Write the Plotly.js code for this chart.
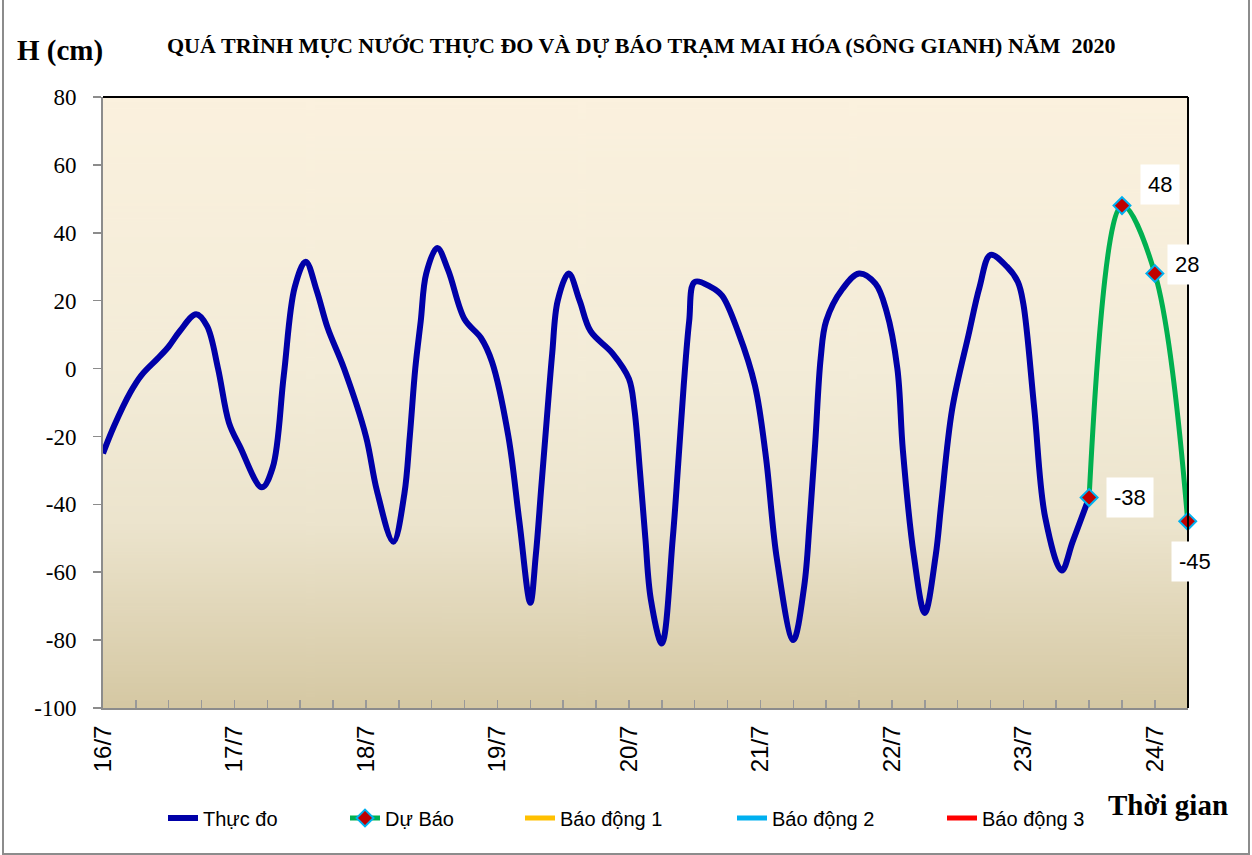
<!DOCTYPE html>
<html>
<head>
<meta charset="utf-8">
<script src="https://cdn.plot.ly/plotly-3.0.1.min.js"></script>
<style>
html,body{margin:0;padding:0;background:#fff;}
#wrap{position:relative;width:1252px;height:855px;overflow:hidden;}
#chart{width:1252px;height:855px;}
#frame{position:absolute;left:2px;top:-4px;width:1244px;height:855px;border:2px solid #8c8c8c;pointer-events:none;}
</style>
</head>
<body>
<div id="wrap"><div id="chart"></div><div id="frame"></div></div>
<script>
// ---- data (hours counted from 16/7 00:00) ----
const dayLabels = ['16/7','17/7','18/7','19/7','20/7','21/7','22/7','23/7','24/7'];
const dayHours  = [0,24,48,72,96,120,144,168,192];
const yTicks = [80,60,40,20,0,-20,-40,-60,-80,-100];

const obsHours = [0,2,5,7,10,12,14,17,19,21,23,25,29,31,33,35,37,39,41,44,48,50,53,
  55,56,57,58,59,61,63,66,69,71,74,76,78,79,80,81,82,83,85,87,89,93,96,97,98,99,100,102,
  104,105,106,107,108,111,113,116,119,121,123,126,128,129,130,131,132,135,138,141,143,145,146,148,150,
  152,153,155,158,160,162,165,167,168,170,172,175,177,180];
const obsLevel = [-25,-17,-7,-2,3,6.5,11,16,12.5,0,-16,-23,-35,-29,-2,24,31.5,23,12,0,-20,-36,-51,
  -37,-20,0,14,28,35.5,29,14.5,9,2,-20,-45,-69,-55,-35,-15,4.5,20,28,20,11,4.5,-3,-12,-30,-50,-68,-81,
  -50,-28,-5,14,25.5,24,21.5,10.5,-5,-26,-56,-80,-64,-45,-22,3,14,23.5,28,25,17,0,-24,-55,-72,
  -55,-40,-12,10,24,33.5,30,25.5,19,-12,-44,-59.5,-51,-38];

const fcHours = [180,186,192,198];
const fcLevel = [-38,48,28,-45];

const alarmHours = [0,198];
const alarm1 = [null,null];
const alarm2 = [null,null];
const alarm3 = [null,null];

const seriesNames = ['Thực đo','Dự Báo','Báo động 1','Báo động 2','Báo động 3'];

// ---- gradient background ----
const cv = document.createElement('canvas');
cv.width = 8; cv.height = 400;
const cx = cv.getContext('2d');
const gr = cx.createLinearGradient(0,0,0,400);
gr.addColorStop(0,'#FBF1DE');
gr.addColorStop(0.45,'#F3ECD8');
gr.addColorStop(0.7,'#ECE4CD');
gr.addColorStop(1,'#D5C8A3');
cx.fillStyle = gr; cx.fillRect(0,0,8,400);
const bgURL = cv.toDataURL('image/png');

const traces = [
  {x: obsHours, y: obsLevel, name: seriesNames[0], type:'scatter', mode:'lines',
   line:{color:'#0000A8', width:6, shape:'spline', smoothing:1}, legend:'legend'},
  {x: fcHours, y: fcLevel, name: seriesNames[1], type:'scatter', mode:'lines+markers', cliponaxis:false,
   line:{color:'#00B050', width:5, shape:'spline', smoothing:1},
   marker:{symbol:'diamond', size:13, color:'#C00000', line:{color:'#00B0F0', width:2}}, legend:'legend2'},
  {x: alarmHours, y: alarm1, name: seriesNames[2], type:'scatter', mode:'lines',
   line:{color:'#FFC000', width:5}, legend:'legend3'},
  {x: alarmHours, y: alarm2, name: seriesNames[3], type:'scatter', mode:'lines',
   line:{color:'#00B0F0', width:5}, legend:'legend4'},
  {x: alarmHours, y: alarm3, name: seriesNames[4], type:'scatter', mode:'lines',
   line:{color:'#FF0000', width:5}, legend:'legend5'}
];

const L = 103, R = 1188, T = 97, B = 708;
const W = R - L, H = B - T;
const px = v => (v - L) / W;
const py = v => (B - v) / H;

const legFont = {family:'Liberation Sans, Arial, sans-serif', size:20, color:'#000'};
function mkLegend(xpix){
  return {x: px(xpix), y: py(818), xanchor:'left', yanchor:'middle', orientation:'h',
    font: legFont, bgcolor:'rgba(0,0,0,0)', borderwidth:0, itemwidth:30, tracegroupgap:0};
}

const serif = 'Liberation Serif, Times New Roman, serif';
const sans = 'Liberation Sans, Arial, sans-serif';
const labelOffsets = [[41,0],[38,21],[32,9],[7,-40]];
const annotations = [
  {xref:'paper', yref:'paper', x:px(641), y:py(45), xanchor:'center', yanchor:'middle', showarrow:false,
   text:'<b>QUÁ TRÌNH MỰC NƯỚC THỰC ĐO VÀ DỰ BÁO TRẠM MAI HÓA (SÔNG GIANH) NĂM  2020</b>',
   font:{family:serif, size:22, color:'#000'}},
  {xref:'paper', yref:'paper', x:px(60), y:py(50), xanchor:'center', yanchor:'middle', showarrow:false, text:'<b>H (cm)</b>',
   font:{family:serif, size:29, color:'#000'}},
  {xref:'paper', yref:'paper', x:px(1168), y:py(805), xanchor:'center', yanchor:'middle', showarrow:false, text:'<b>Thời gian</b>',
   font:{family:serif, size:29, color:'#000'}}
];
fcLevel.forEach((v,i)=>{
  annotations.push({x: fcHours[i], y: v, xref:'x', yref:'y', text: String(v), showarrow:false,
    xanchor:'center', yanchor:'middle',
    xshift: labelOffsets[i][0], yshift: labelOffsets[i][1], bgcolor:'#fff', borderpad:7,
    font:{family:sans, size:22, color:'#000'}});
});

const layout = {
  width:1252, height:855,
  margin:{l:L, r:1252-R, t:T, b:855-B, pad:0},
  paper_bgcolor:'rgba(0,0,0,0)', plot_bgcolor:'#F1EAD5',
  showlegend:true,
  legend: mkLegend(163),
  legend2: mkLegend(345),
  legend3: mkLegend(520),
  legend4: mkLegend(732),
  legend5: mkLegend(942),
  xaxis:{range:[0,198.05], tickmode:'array', tickvals:dayHours, ticktext:dayLabels, tickangle:-90,
    ticks:'inside', ticklen:8, tickwidth:1.5, tickcolor:'#999', showgrid:false, zeroline:false,
    showline:true, linecolor:'#8c8c8c', linewidth:2, ticklabelstandoff:6,
    tickfont:{family:sans, size:24, color:'#000'},
    minor:{tickmode:'linear', tick0:0, dtick:6, ticks:'inside', ticklen:8, tickwidth:1.5, tickcolor:'#999', showgrid:false}},
  yaxis:{range:[-100,80], tickmode:'array', tickvals:yTicks, ticktext:yTicks.map(String),
    ticks:'outside', ticklen:8, tickwidth:1.5, tickcolor:'#8c8c8c',
    showgrid:false, zeroline:false, showline:true, linecolor:'#8c8c8c', linewidth:2, ticklabelstandoff:12,
    tickfont:{family:serif, size:23, color:'#000'}},
  images:[{source:bgURL, xref:'paper', yref:'paper', x:0, y:1, sizex:1, sizey:1, sizing:'stretch', layer:'below', xanchor:'left', yanchor:'top'}],
  shapes:[
    {type:'line', xref:'paper', yref:'paper', x0:0, x1:1, y0:1, y1:1, line:{color:'#000', width:2}},
    {type:'line', xref:'paper', yref:'paper', x0:1, x1:1, y0:0, y1:1, line:{color:'#000', width:2}}
  ],
  annotations: annotations
};

Plotly.newPlot('chart', traces, layout, {displayModeBar:false, staticPlot:true});
</script>
</body>
</html>
